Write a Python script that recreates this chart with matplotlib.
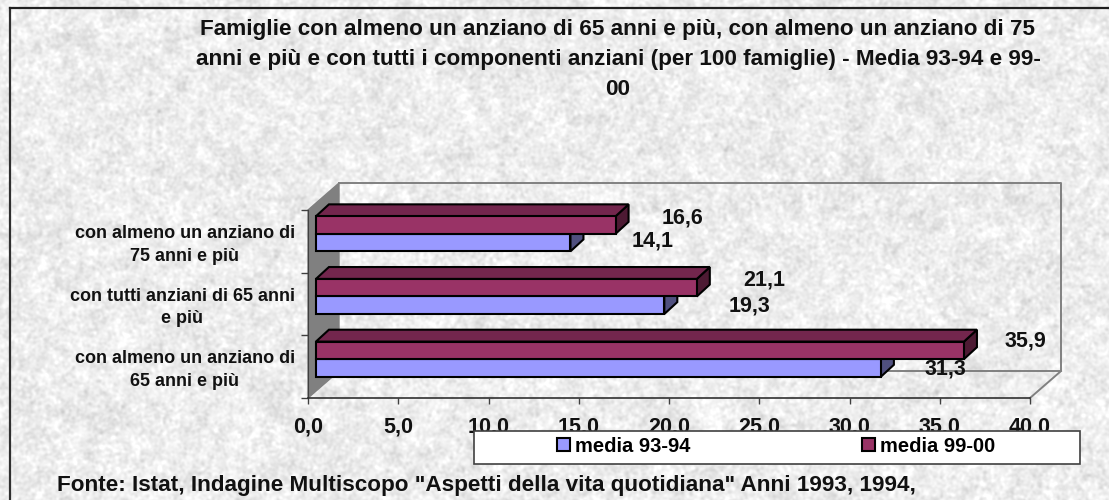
import numpy as np
import matplotlib
matplotlib.use('Agg')
from matplotlib import pyplot as plt
from matplotlib.patches import Patch, Polygon, Rectangle

plt.rcParams['font.family'] = ['Liberation Sans', 'DejaVu Sans']
plt.rcParams['font.weight'] = 'bold'

W, H = 1109, 500

# Data, bottom category first
categories = ['con almeno un anziano di\n65 anni e più',
              'con tutti anziani di 65 anni\ne più',
              'con almeno un anziano di\n75 anni e più']
media_93_94 = [31.3, 19.3, 14.1]
media_99_00 = [35.9, 21.1, 16.6]
value_labels_93 = ['31,3', '19,3', '14,1']
value_labels_99 = ['35,9', '21,1', '16,6']
x_ticks = [0, 5, 10, 15, 20, 25, 30, 35, 40]
x_tick_labels = ['0,0', '5,0', '10,0', '15,0', '20,0', '25,0', '30,0', '35,0', '40,0']

title = ('Famiglie con almeno un anziano di 65 anni e più, con almeno un anziano di 75\n'
         'anni e più e con tutti i componenti anziani (per 100 famiglie) - Media 93-94 e 99-\n'
         '00')
source = 'Fonte: Istat, Indagine Multiscopo "Aspetti della vita quotidiana" Anni 1993, 1994,'

# Label offsets from the end of each bar, in pixels
offsets_93 = [(65, -1), (85, -1), (82, 2)]
offsets_99 = [(61, 9), (67, 8), (67, 7)]

BLUE, BLUE_SIDE = '#9999ff', '#50507f'
MAROON, MAROON_TOP, MAROON_SIDE = '#993366', '#73264d', '#4d1a33'


def fx(px):
    return px / W


def fy(py):
    return 1 - py / H


# Speckled paper background
rng = np.random.default_rng(7)
fine = rng.normal(size=(H, W))
yy = np.fft.fftfreq(H)[:, None]
xx = np.fft.fftfreq(W)[None, :]
r2 = xx ** 2 + yy ** 2
blur1 = np.fft.ifft2(np.fft.fft2(fine) * np.exp(-r2 * 2 * np.pi ** 2 * 1.3 ** 2)).real
blur2 = np.fft.ifft2(np.fft.fft2(rng.normal(size=(H, W))) * np.exp(-r2 * 2 * np.pi ** 2 * 5 ** 2)).real
texture = 237 + 6.5 * blur1 / blur1.std() + 4 * blur2 / blur2.std()
texture = np.clip(texture, 195, 255)

fig = plt.figure(figsize=(W / 100, H / 100), dpi=100)
bg = fig.add_axes([0, 0, 1, 1])
bg.imshow(texture, cmap='gray', vmin=0, vmax=255, extent=(0, W, H, 0), aspect='auto')
bg.plot([10, 10], [H, 8], color='#303030', lw=1.6)
bg.plot([10, W], [8, 8], color='#202020', lw=1.6)
bg.set_xlim(0, W)
bg.set_ylim(H, 0)
bg.axis('off')

fig.text(fx(618), fy(19), title, ha='center', va='top', ma='center', fontsize=16.2,
         linespacing=1.57, color='#111111')
fig.text(fx(57), fy(485), source, ha='left', va='center', fontsize=16.2, color='#111111')

# Chart, one unit of y is one category band
ax = fig.add_axes([fx(308), fy(398), fx(1030) - fx(308), fy(210) - fy(398)])
ax.patch.set_alpha(0)
ax.set_xlim(0, 40)
ax.set_ylim(0, 3)

WALL_DX, WALL_DY = 1.717, 0.43
BAR_DX, BAR_DY = 0.72, 0.19
BAR_LEFT = 0.44
BAR_H = 0.28
BAR_BASE = 0.62

# Side wall, back wall and floor outline
ax.add_patch(Polygon([(0, 0), (WALL_DX, WALL_DY), (WALL_DX, 3 + WALL_DY), (0, 3)],
                     closed=True, fc='#808080', ec='#808080', clip_on=False, zorder=1))
ax.plot([WALL_DX, 40 + WALL_DX, 40 + WALL_DX, WALL_DX],
        [3 + WALL_DY, 3 + WALL_DY, WALL_DY, WALL_DY],
        color='#808080', lw=1.4, clip_on=False, zorder=1)
ax.plot([40, 40 + WALL_DX], [0, WALL_DY], color='#808080', lw=1.4, clip_on=False, zorder=1)


def draw_bars(centers, values, face, side, top=None):
    ax.barh(centers, values, height=BAR_H, left=BAR_LEFT, color=face, edgecolor='black',
            linewidth=1.5, zorder=3)
    for c, v in zip(centers, values):
        x1 = BAR_LEFT + v
        y0, y1 = c - BAR_H / 2, c + BAR_H / 2
        ax.add_patch(Polygon([(x1, y0), (x1 + BAR_DX, y0 + BAR_DY), (x1 + BAR_DX, y1 + BAR_DY), (x1, y1)],
                             closed=True, fc=side, ec='black', lw=1.5, clip_on=False, zorder=2.8))
        if top is not None:
            ax.add_patch(Polygon([(BAR_LEFT, y1), (BAR_LEFT + BAR_DX, y1 + BAR_DY),
                                  (x1 + BAR_DX, y1 + BAR_DY), (x1, y1)],
                                 closed=True, fc=top, ec='black', lw=1.5, clip_on=False, zorder=2.8))


base = np.arange(len(categories)) + BAR_BASE
draw_bars(base - BAR_H / 2, media_93_94, BLUE, BLUE_SIDE)
draw_bars(base + BAR_H / 2, media_99_00, MAROON, MAROON_SIDE, MAROON_TOP)

for c, v, lab, off in zip(base - BAR_H / 2, media_93_94, value_labels_93, offsets_93):
    ax.annotate(lab, (BAR_LEFT + v, c), xytext=(off[0] * 0.72, off[1] * 0.72),
                textcoords='offset points', ha='center', va='center', fontsize=15.5,
                color='#111111', annotation_clip=False, zorder=6)
for c, v, lab, off in zip(base + BAR_H / 2, media_99_00, value_labels_99, offsets_99):
    ax.annotate(lab, (BAR_LEFT + v, c), xytext=(off[0] * 0.72, off[1] * 0.72),
                textcoords='offset points', ha='center', va='center', fontsize=15.5,
                color='#111111', annotation_clip=False, zorder=6)

# Axes
for name in ['top', 'right']:
    ax.spines[name].set_visible(False)
ax.spines['left'].set_color('#404040')
ax.spines['bottom'].set_color('#303030')
ax.spines['bottom'].set_linewidth(1.2)
ax.set_xticks(x_ticks)
ax.set_xticklabels(x_tick_labels, fontsize=15.5, color='#111111')
ax.tick_params(axis='x', length=4.5, width=1, color='#404040', pad=8.5)
ax.set_yticks(range(len(categories) + 1))
ax.set_yticklabels([])
ax.tick_params(axis='y', which='major', length=5, width=1, color='#404040')
ax.set_yticks(np.arange(len(categories)) + 0.52, minor=True)
ax.set_yticklabels(categories, minor=True, fontsize=13, ha='right', ma='center', linespacing=1.42,
                   color='#111111')
ax.tick_params(axis='y', which='minor', length=0, pad=9.4)

# Legend box sits on top of the tick labels, as in the original
ax.add_patch(Rectangle((fx(474), fy(464)), fx(1080) - fx(474), fy(430.5) - fy(464),
                       transform=fig.transFigure, fc='white', ec='#404040', lw=1.2,
                       clip_on=False, zorder=4))
handles = [Patch(fc=BLUE, ec='black', lw=1.5, label='media 93-94'),
           Patch(fc=MAROON, ec='black', lw=1.5, label='media 99-00')]
ax.legend(handles=handles, ncol=2, frameon=False, loc='center left',
          bbox_to_anchor=(fx(557), fy(446)), bbox_transform=fig.transFigure,
          borderaxespad=0, borderpad=0, handlelength=0.65, handleheight=0.65, handletextpad=0.25,
          columnspacing=8.5, prop={'size': 14.5, 'weight': 'bold'})

fig.savefig('out.png', dpi=100)
